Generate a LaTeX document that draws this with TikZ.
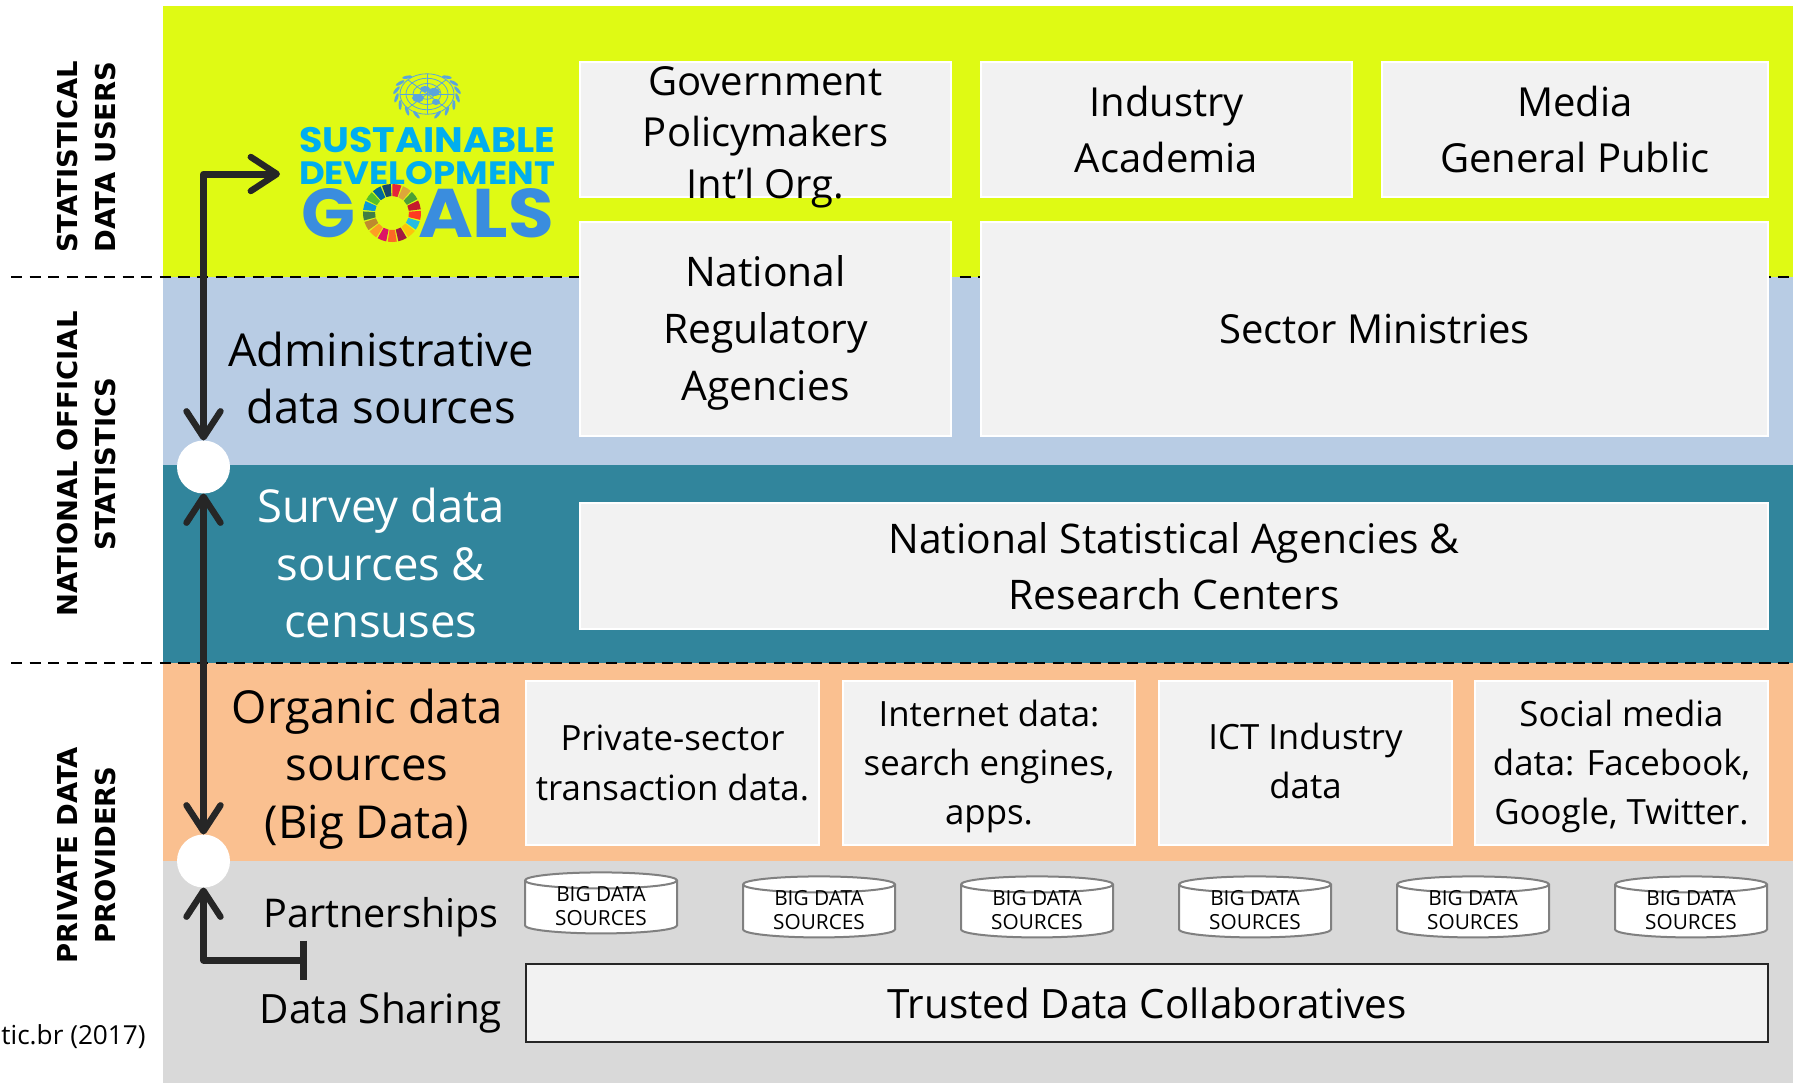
\documentclass[tikz,border=0pt]{standalone}
\usepackage{fontspec}
\usepackage{graphicx}
\setmainfont{Open Sans}
\newfontfamily\lblfont{DejaVu Sans}
\newfontfamily\logofont{Poppins}
\usetikzlibrary{arrows.meta,shapes.geometric}
\definecolor{cLime}{HTML}{DFFA14}
\definecolor{cBlue}{HTML}{B8CCE4}
\definecolor{cTeal}{HTML}{31859C}
\definecolor{cPeach}{HTML}{FAC090}
\definecolor{cGrey}{HTML}{D9D9D9}
\definecolor{cBox}{HTML}{F2F2F2}
\definecolor{cDark}{HTML}{262626}
\definecolor{cSky}{HTML}{00AEEF}
\definecolor{cGoal}{HTML}{3A8DDE}
\definecolor{cUN}{HTML}{5AA5DC}
\newcommand\pxbox[7]{%
 \pgfmathsetmacro\bw{(#4-#2)/2}\pgfmathsetmacro\bh{(#5-#3)/2}%
 \pgfmathsetmacro\cx{(#2+#4)/2}\pgfmathsetmacro\cy{(#3+#5)/2}%
 \node[#6,minimum width={\bw pt-\pgflinewidth},minimum height={\bh pt-\pgflinewidth}] (#1) at (\cx,\cy) {#7};}
\newcommand\bigsrc[3]{%
 \node[cyl,yshift=-1.7pt] (#1) at (#2,#3) {\rule{40pt}{0pt}};
 \node[cyltext] (#1t) at ([yshift=.7pt]#1.center) {BIG DATA\\SOURCES};}
\tikzset{
 x=.5pt,y=-.5pt,
 band/.style={inner sep=0,outer sep=0,draw=none,line width=0pt},
 boxA/.style={inner sep=0,outer sep=0,draw=white,line width=1pt,fill=cBox,align=center,font=\fontsize{20}{26}\selectfont},
 boxB/.style={boxA,font=\fontsize{20}{28}\selectfont},
 boxC/.style={boxA,font=\fontsize{17.4}{24.6}\selectfont},
 boxD/.style={inner sep=0,outer sep=0,draw=cDark,line width=1pt,fill=cBox,align=center,font=\fontsize{20.2}{26}\selectfont},
 boxtext/.style={inner sep=0,align=center},
 boxtextC/.style={boxtext,font=\fontsize{17.4}{24.6}\selectfont},
 cyl/.style={cylinder,shape border rotate=90,aspect=.2,draw=black!50,line width=1pt,fill=white,inner sep=0,outer sep=0,
   minimum width=76pt,minimum height=30.5pt},
 cyltext/.style={inner sep=0,align=center,font=\fontsize{10.4}{12.2}\selectfont},
 hdr/.style={inner sep=0,align=center,font=\fontsize{22.7}{28.6}\selectfont},
 side/.style={inner sep=0,rotate=90,align=center,font=\lblfont\bfseries\fontsize{13.7}{19}\selectfont},
 dash line/.style={line width=1.2pt,dash pattern=on 5.6pt off 3.7pt},
 conn/.style={cDark,line width=3.5pt,line join=round,
   >={Straight Barb[round,length=13pt,width=17pt,line width=3.2pt]}},
 hub/.style={circle,fill=white,inner sep=0,outer sep=0,minimum size=26.5pt},
 logo/.style={inner sep=0,outer sep=0},
}
\begin{document}
\begin{tikzpicture}
\useasboundingbox (0,0) rectangle (1798,1083);
% bands
\pxbox{lime}{163}{6}{1793}{277}{band,fill=cLime}{}
\pxbox{blue}{163}{277}{1793}{465}{band,fill=cBlue}{}
\pxbox{teal}{163}{465}{1793}{663}{band,fill=cTeal}{}
\pxbox{peach}{163}{663}{1793}{861}{band,fill=cPeach}{}
\pxbox{grey}{163}{861}{1793}{1083}{band,fill=cGrey}{}
% dashed separators
\coordinate (d1a) at (11,277); \coordinate (d1b) at (1793,277);
\coordinate (d2a) at (11,663); \coordinate (d2b) at (1793,663);
\draw[dash line] (d1a) -- (d1b);
\draw[dash line] (d2a) -- (d2b);
% side labels
\node[side] (s1) at (87,157) {STATISTICAL\\DATA USERS};
\node[side] (s2) at (87,464) {NATIONAL OFFICIAL\\STATISTICS};
\node[side] (s3) at (87,855) {PRIVATE DATA\\PROVIDERS};
\node[inner sep=0,anchor=west,font=\fontsize{13.1}{15}\selectfont] (src) at (1,1037) {tic.br (2017)};
% boxes
\pxbox{gov}{579}{61}{952}{198}{boxA}{}
\node[boxtext,font=\fontsize{20}{25.8}\selectfont] (govt) at (765.5,137) {Government\\Policymakers\\Int’l Org.};
\pxbox{ind}{980}{61}{1353}{198}{boxB}{Industry\\Academia}
\pxbox{med}{1381}{61}{1769}{198}{boxB}{Media\\General Public}
\pxbox{reg}{579}{221}{952}{437}{boxB}{}
\node[boxtext,font=\fontsize{20.4}{28.4}\selectfont] (regt) at (765.5,333) {National\\Regulatory\\Agencies};
\pxbox{sec}{980}{221}{1769}{437}{boxB}{Sector Ministries}
\pxbox{nsa}{579}{502}{1769}{630}{boxB,font=\fontsize{20.4}{28}\selectfont}{National Statistical Agencies \&\\Research Centers}
\pxbox{prv}{525}{680}{820}{846}{boxC}{Private-sector\\transaction data.}
\pxbox{net}{842}{680}{1136}{846}{boxC}{}
\node[boxtextC] (nett) at (989,766.5) {Internet data:\\search engines,\\apps.};
\pxbox{ict}{1158}{680}{1453}{846}{boxC}{}
\node[boxtextC] (ictt) at (1305.5,761) {ICT Industry\\data};
\pxbox{soc}{1474}{680}{1769}{846}{boxC}{}
\node[boxtextC] (soct) at (1621.5,766.5) {Social media\\data: Facebook,\\Google, Twitter.};
\pxbox{tru}{525}{963}{1769}{1043}{boxD}{Trusted Data Collaboratives}
% cylinders
\bigsrc{c1}{601}{904}
\bigsrc{c2}{819}{908}
\bigsrc{c3}{1037}{908}
\bigsrc{c4}{1255}{908}
\bigsrc{c5}{1473}{908}
\bigsrc{c6}{1691}{908}
% left headers
\node[hdr] (adm) at (381,378) {Administrative\\data sources};
\node[hdr,text=white] (sur) at (381,563) {Survey data\\sources \&\\censuses};
\node[hdr] (org) at (367,769) {Organic data\\sources\\(Big Data)};
\node[hdr,font=\fontsize{19.8}{24}\selectfont] (par) at (381,917) {Partnerships};
\node[hdr,font=\fontsize{20.2}{24}\selectfont] (sha) at (381,1013) {Data Sharing};
% SDG logo
\node[logo,text=cSky,anchor=north west] (sdg1) at (299,127) {\resizebox{128pt}{12.6pt}{\logofont\bfseries SUSTAINABLE}};
\node[logo,text=cSky,anchor=north west] (sdg2) at (299,161) {\resizebox{128pt}{11.5pt}{\logofont\bfseries DEVELOPMENT}};
\node[logo,text=cGoal,anchor=north west] (sdg3) at (301,188) {\resizebox{27pt}{24.5pt}{\logofont\bfseries G}};
\node[logo,text=cGoal,anchor=north west] (sdg4) at (418,188) {\resizebox{68pt}{24.5pt}{\logofont\bfseries ALS}};
\foreach \i/\c in {0/E5243B,1/DDA63A,2/4C9F38,3/C5192D,4/FF3A21,5/26BDE2,6/FCC30B,7/A21942,8/FD6925,9/DD1367,10/FD9D24,11/BF8B2E,12/3F7E44,13/0A97D9,14/56C02B,15/00689D,16/19486A}{
  \pgfmathsetmacro\aa{-89+\i*21.176}
  \pgfmathsetmacro\ab{\aa+18}
  \definecolor{wedge}{HTML}{\c}
  \fill[wedge,shift={(392,213)}] (\aa:17) -- (\aa:29) arc[start angle=\aa,end angle=\ab,radius=29] -- (\ab:17) arc[start angle=\ab,end angle=\aa,radius=17] -- cycle;
}
% UN emblem
\begin{scope}[shift={(427,94)},cUN]
  \foreach \r in {7,14,21,27}{\draw[line width=.4pt] (0,0) ellipse ({\r} and {\r*.75});}
  \foreach \a in {0,45,90,135}{\draw[line width=.4pt] (\a:27 and 20) -- (\a+180:27 and 20);}
  \fill (-9,4) ellipse (6 and 4);
  \fill (-2,-5) ellipse (5 and 3);
  \fill (7,-2) ellipse (6 and 4);
  \fill (9,8) ellipse (4 and 3);
  \foreach \t in {-50,-30,...,70}{
    \fill[shift={(\t:31 and 22)},rotate=-\t-60] (0,0) ellipse (5 and 1.6);
    \fill[shift={(180-\t:31 and 22)},rotate=\t+60] (0,0) ellipse (5 and 1.6);
  }
\end{scope}
% hubs and connectors
\node[hub] (h1) at (203.5,467) {};
\node[hub] (h2) at (203.5,861) {};
\coordinate (sdgin) at (280,174);
\coordinate (tee) at (307,960);
\draw[conn,<->] (sdgin) -| (h1.north);
\draw[conn,<->] (h1.south) -- (h2.north);
\draw[conn,<-{Bar[width=19.5pt]}] (h2.south) |- (tee);
\end{tikzpicture}
\end{document}
